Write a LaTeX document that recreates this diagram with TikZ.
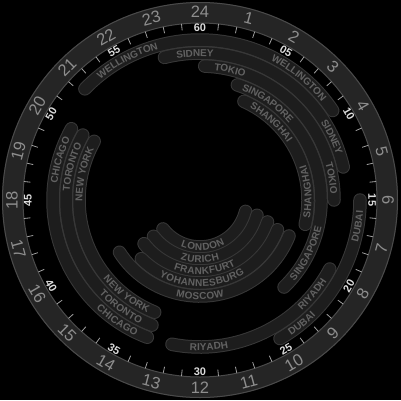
\documentclass[tikz,border=0pt]{standalone}
\usepackage{fontspec}
\setmainfont{Liberation Sans}
\usetikzlibrary{decorations.text}
\definecolor{ringfill}{HTML}{252525}
\definecolor{rimline}{HTML}{4A4A4A}
\definecolor{hourgray}{HTML}{8E8E8E}
\definecolor{mingray}{HTML}{DCDCDC}
\definecolor{tickgray}{HTML}{A0A0A0}
\definecolor{bandfill}{HTML}{1D1D1D}
\definecolor{bandline}{HTML}{383838}
\definecolor{citygray}{HTML}{626262}
\tikzset{
  rim/.style={draw=rimline,line width=1pt},
  minortick/.style={draw=tickgray,line width=0.8pt},
  hourlbl/.style={text=hourgray,font=\fontsize{16.5}{16.5}\selectfont,inner sep=0pt},
  minlbl/.style={text=mingray,font=\fontsize{11}{11}\selectfont\bfseries,inner sep=0pt},
  bandedge/.style={line width=13.5pt,line cap=round,draw=bandline},
  bandcore/.style={line width=11.5pt,line cap=round,draw=bandfill},
  city/.style={decorate,decoration={text along path,text align=center,raise=-3.5pt,
      text color=citygray,text={|\fontsize{10}{10}\selectfont\bfseries|#1}}},
}

\begin{document}
\begin{tikzpicture}[x=1pt,y=1pt]
  \useasboundingbox (-200,-200) rectangle (201,200);
  \fill[black] (-200,-200) rectangle (201,200);
  % outer ring with the hours
  \fill[ringfill,even odd rule] (0,0) circle[radius=198] (0,0) circle[radius=177];
  \draw[rim] (0,0) circle[radius=197.5];
  \draw[rim] (0,0) circle[radius=177];
  \foreach \h in {1,...,24} {
    \pgfmathsetmacro\a{mod(90-15*\h+360,360)}
    \pgfmathsetmacro\rot{\a<=180 ? \a-90 : \a+90}
    \node[hourlbl,rotate=\rot] (h\h) at (\a:188) {\h};
  }
  % minute scale
  \foreach \k in {0,...,11}
    \foreach \j in {1,...,4}
      \draw[minortick] ({90-6*(5*\k+\j)}:170.5) -- ({90-6*(5*\k+\j)}:177);
  \foreach \m in {05,10,15,20,25,30,35,40,45,50,55,60} {
    \pgfmathsetmacro\a{mod(90-6*\m+360,360)}
    \pgfmathsetmacro\rot{\a<=180 ? \a-90 : \a+90}
    \node[minlbl,rotate=\rot] (m\m) at (\a:172) {\m};
  }
  % city bands: radius / from / to
  \foreach \r/\a/\b in {160/136/34, 147/104/13, 134/88/0, 121/72/-46, 108/66/-13,
      160/0/-60, 147/-28/-101, 147/151/249, 134/151/249, 121/151/248,
      47/-142/-14, 59/-142/-15, 71/-142/-18, 83/-135/-21, 96/-147/-22} {
    \draw[bandedge] (\a:\r) arc[start angle=\a,end angle=\b,radius=\r];
    \draw[bandcore] (\a:\r) arc[start angle=\a,end angle=\b,radius=\r];
  }
  % city names: radius / centre / sense / name
  \foreach \r/\c/\d/\name in {160/117.5/-1/WELLINGTON, 160/51/-1/WELLINGTON,
      147/92/-1/SIDNEY, 147/25.5/-1/SIDNEY, 134/77/-1/TOKIO, 134/9.5/-1/TOKIO,
      121/55/-1/SINGAPORE, 121/-26.5/1/SINGAPORE, 108/47.5/-1/SHANGHAI, 108/4.5/1/SHANGHAI,
      160/-9.5/1/DUBAI, 160/-50.5/1/DUBAI, 147/-40/1/RIYADH, 147/-86.5/1/RIYADH,
      147/164/-1/CHICAGO, 134/165.5/-1/TORONTO, 121/167.5/-1/NEW YORK,
      121/232/1/NEW YORK, 134/233.5/1/TORONTO, 147/235.5/1/CHICAGO,
      47/-86.5/1/LONDON, 59/-90/1/ZURICH, 71/-86/1/FRANKFURT,
      83/-88.5/1/YOHANNESBURG, 96/-90/1/MOSCOW} {
    \path[city/.expanded=\name] ({\c-\d*40}:\r) arc[start angle={\c-\d*40},end angle={\c+\d*40},radius=\r];
  }
\end{tikzpicture}
\end{document}
